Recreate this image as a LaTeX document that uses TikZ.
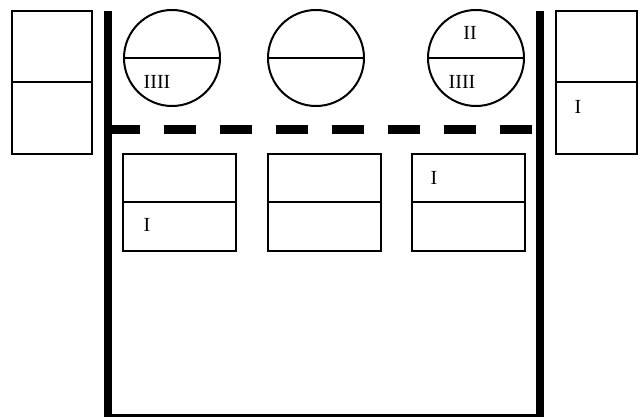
\documentclass[tikz,border=0pt]{standalone}
\usepackage{fontspec}
\setmainfont{Liberation Serif}
\usetikzlibrary{positioning}

\tikzset{
  cell/.style={draw,line width=2pt,rectangle,inner sep=0pt},
  tank/.style={draw,line width=2pt,circle,inner sep=0pt,minimum size=96pt},
  split/.style={line width=2pt},
  num/.style={font=\fontsize{20}{24}\selectfont,inner sep=0pt},
  wall/.style={line width=8pt},
  edge/.style={line width=9pt,dash pattern=on 32pt off 24pt}
}

\begin{document}
\begin{tikzpicture}[x=1pt,y=-1pt]
  \useasboundingbox (0,0) rectangle (643,417);

  % outer cells
  \node[cell,minimum width=80pt,minimum height=143pt] (L) at (52,82.5) {};
  \node[cell,minimum width=81pt,minimum height=143pt] (R) at (596.5,82.5) {};
  \draw[split] (L.west) -- (L.east);
  \draw[split] (R.west) -- (R.east);

  % walls
  \coordinate (TL) at (108,11);
  \coordinate (BL) at (108,418);
  \coordinate (BR) at (540,418);
  \coordinate (TR) at (540,11);
  \draw[wall] (TL) -- (BL) -- (BR) -- (TR);

  % tanks
  \node[tank] (c1) at (172,58) {};
  \node[tank] (c2) at (316,58) {};
  \node[tank] (c3) at (476,58) {};
  \foreach \c in {c1,c2,c3}
    \draw[split] (\c.west) -- (\c.east);

  % dashed line
  \coordinate (DL) at (108,130);
  \coordinate (DR) at (532,130);
  \draw[edge] (DL) -- (DR);

  % inner cells
  \node[cell,minimum width=113pt,minimum height=97pt] (b1) at (179.5,202.5) {};
  \node[cell,minimum width=113pt,minimum height=97pt] (b2) at (324,202.5) {};
  \node[cell,minimum width=113pt,minimum height=97pt] (b3) at (468,202.5) {};
  \foreach \b in {b1,b2,b3}
    \draw[split] (\b.west) -- (\b.east);

  % labels
  \node[num] (n1) at (157,82) {IIII};
  \node[num] (n2) at (470,33) {II};
  \node[num] (n3) at (462,82) {IIII};
  \node[num] (n4) at (578,107) {I};
  \node[num] (n5) at (147,225) {I};
  \node[num] (n6) at (434,178) {I};
\end{tikzpicture}
\end{document}
